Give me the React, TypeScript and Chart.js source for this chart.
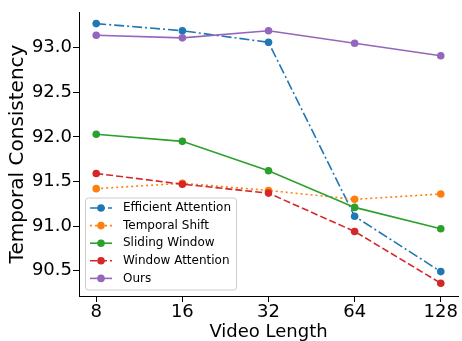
import React, { useEffect, useRef } from "react";
import { Chart, registerables } from "chart.js";

Chart.register(...registerables);

const categories = ["8", "16", "32", "64", "128"];
const seriesLabels = ["Efficient Attention", "Temporal Shift", "Sliding Window", "Window Attention", "Ours"];
const efficientAttention = [93.27, 93.19, 93.06, 91.11, 90.49];
const temporalShift = [91.42, 91.48, 91.40, 91.30, 91.36];
const slidingWindow = [92.03, 91.95, 91.62, 91.21, 90.97];
const windowAttention = [91.59, 91.47, 91.37, 90.94, 90.36];
const ours = [93.14, 93.11, 93.19, 93.05, 92.91];
const yTicks = [90.5, 91.0, 91.5, 92.0, 92.5, 93.0];

const colors = ["#1f77b4", "#ff7f0e", "#2ca02c", "#d62728", "#9467bd"];
const dashes: number[][] = [[10, 3, 2, 3], [2, 3], [], [7, 3], []];
const FONT = "'DejaVu Sans', sans-serif";

const legendPlugin = {
  id: "mplLegend",
  afterDatasetsDraw(chart: any) {
    const { ctx, chartArea } = chart;
    const fontSize = 12;
    ctx.save();
    ctx.font = `${fontSize}px ${FONT}`;
    const sets = chart.data.datasets;
    let maxW = 0;
    sets.forEach((d: any) => { maxW = Math.max(maxW, ctx.measureText(d.label).width); });
    const rowH = 17.6;
    const padX = 4.5;
    const handleLen = 22;
    const gap = 11;
    const boxW = padX + handleLen + gap + maxW + padX + 1;
    const boxH = rowH * sets.length + 4;
    const x0 = chartArea.left + 6.5;
    const y1 = chartArea.bottom - 6;
    const y0 = y1 - boxH;
    const r = 3;
    ctx.beginPath();
    ctx.moveTo(x0 + r, y0);
    ctx.lineTo(x0 + boxW - r, y0);
    ctx.quadraticCurveTo(x0 + boxW, y0, x0 + boxW, y0 + r);
    ctx.lineTo(x0 + boxW, y1 - r);
    ctx.quadraticCurveTo(x0 + boxW, y1, x0 + boxW - r, y1);
    ctx.lineTo(x0 + r, y1);
    ctx.quadraticCurveTo(x0, y1, x0, y1 - r);
    ctx.lineTo(x0, y0 + r);
    ctx.quadraticCurveTo(x0, y0, x0 + r, y0);
    ctx.closePath();
    ctx.fillStyle = "rgba(255,255,255,0.8)";
    ctx.fill();
    ctx.strokeStyle = "#cccccc";
    ctx.lineWidth = 1;
    ctx.stroke();
    sets.forEach((d: any, i: number) => {
      const cy = y0 + 10 + i * rowH;
      const hx = x0 + padX;
      ctx.beginPath();
      ctx.setLineDash(d.borderDash || []);
      ctx.strokeStyle = d.borderColor;
      ctx.lineWidth = d.borderWidth;
      ctx.moveTo(hx, cy);
      ctx.lineTo(hx + handleLen, cy);
      ctx.stroke();
      ctx.setLineDash([]);
      ctx.beginPath();
      ctx.fillStyle = d.borderColor;
      ctx.arc(hx + handleLen / 2, cy, d.pointRadius, 0, Math.PI * 2);
      ctx.fill();
      ctx.fillStyle = "#000";
      ctx.textBaseline = "middle";
      ctx.textAlign = "left";
      ctx.fillText(d.label, hx + handleLen + gap, cy);
    });
    ctx.restore();
  },
};

export default function App() {
  const ref = useRef<HTMLCanvasElement | null>(null);
  useEffect(() => {
    document.body.style.margin = "0";
    const values = [efficientAttention, temporalShift, slidingWindow, windowAttention, ours];
    const chart = new Chart(ref.current as HTMLCanvasElement, {
      type: "line",
      data: {
        datasets: values.map((vals, i) => ({
          label: seriesLabels[i],
          data: vals.map((v, j) => ({ x: j, y: v })),
          borderColor: colors[i],
          backgroundColor: colors[i],
          pointBackgroundColor: colors[i],
          pointBorderWidth: 0,
          pointRadius: 3.8,
          borderWidth: 1.6,
          borderDash: dashes[i],
          fill: false,
          tension: 0,
          order: 4 - i,
        })),
      },
      options: {
        responsive: false,
        animation: false,
        devicePixelRatio: 1,
        layout: { padding: { top: 12, right: 2, left: 0, bottom: 0 } },
        plugins: { legend: { display: false }, tooltip: { enabled: false } },
        scales: {
          x: {
            type: "linear",
            min: -0.2,
            max: 4.2,
            afterBuildTicks: (scale: any) => {
              scale.ticks = categories.map((_, i) => ({ value: i }));
            },
            afterFit: (scale: any) => { scale.height = 45; },
            ticks: {
              callback: (v: any) => categories[Math.round(v)],
              color: "#000",
              font: { family: FONT, size: 18, lineHeight: 1.2 },
              padding: 0,
              maxRotation: 0,
              autoSkip: false,
            },
            grid: { display: true, drawOnChartArea: false, drawTicks: true, tickLength: 6, tickColor: "#000", tickWidth: 1 },
            border: { display: true, color: "#000", width: 1 },
            title: {
              display: true,
              text: "Video Length",
              color: "#000",
              font: { family: FONT, size: 18, lineHeight: 1 },
              padding: { top: 0, bottom: 0 },
            },
          },
          y: {
            type: "linear",
            min: 90.2167,
            max: 93.4,
            afterBuildTicks: (scale: any) => {
              scale.ticks = yTicks.map((v) => ({ value: v }));
            },
            afterFit: (scale: any) => { scale.width = 79; },
            ticks: {
              callback: (v: any) => Number(v).toFixed(1),
              color: "#000",
              font: { family: FONT, size: 18 },
              padding: 1,
            },
            grid: { display: true, drawOnChartArea: false, drawTicks: true, tickLength: 6, tickColor: "#000", tickWidth: 1 },
            border: { display: true, color: "#000", width: 1 },
            title: {
              display: true,
              text: "Temporal Consistency",
              color: "#000",
              font: { family: FONT, size: 20, lineHeight: 1.2 },
              padding: { top: 6, bottom: 0 },
            },
          },
        },
      },
      plugins: [legendPlugin],
    } as any);
    return () => chart.destroy();
  }, []);
  return (
    <div style={{ width: 462, height: 341 }}>
      <canvas ref={ref} width={462} height={341} style={{ display: "block" }} />
    </div>
  );
}
